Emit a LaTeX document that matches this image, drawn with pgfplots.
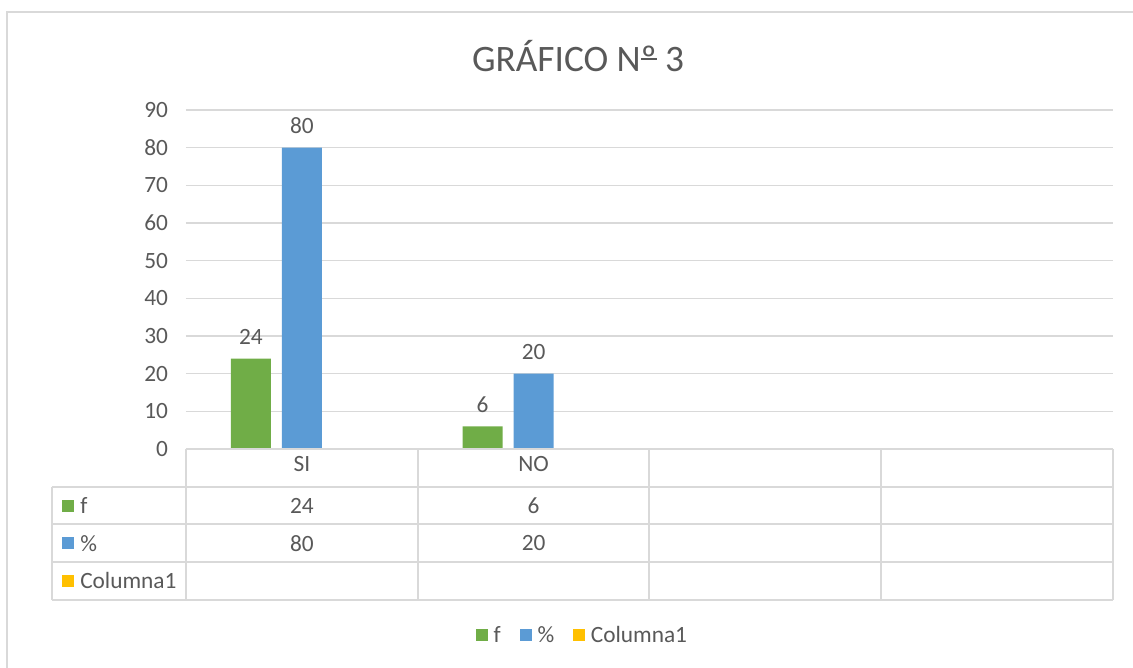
\documentclass[border=0pt]{standalone}
\usepackage{pgfplots}
\pgfplotsset{compat=1.18}
\usepackage{fontspec}
\setmainfont{Carlito}
\definecolor{cgreen}{HTML}{70AD47}
\definecolor{cblue}{HTML}{5B9BD5}
\definecolor{cyellow}{HTML}{FFC000}
\definecolor{ctext}{HTML}{595959}
\definecolor{cgrid}{HTML}{D9D9D9}
\newcommand{\fs}{\fontsize{17.5}{21}\selectfont}
\newsavebox{\ordbox}
\begin{document}
\begin{tikzpicture}[x=1pt,y=1pt]
% pixel (px,py) -> ((px-186)*0.75pt, (449-py)*0.75pt)
\useasboundingbox (-139.5pt,-164.25pt) rectangle (710.25pt,336.75pt);
\draw[cgrid, line width=1.5pt] (-134.25pt,-170pt) -- (-134.25pt,327.75pt) -- (720pt,327.75pt);
\node[text=ctext, font=\fontsize{28}{33}\selectfont] at (294pt,294.75pt) {GRÁFICO N\sbox{\ordbox}{º}\usebox{\ordbox}\llap{\rule[0.3em]{\wd\ordbox}{0.06em}} 3};
\begin{axis}[
  at={(0pt,0pt)}, anchor=south west,
  scale only axis,
  width=695.25pt, height=254.25pt,
  xmin=-0.5, xmax=3.5,
  ymin=0, ymax=90,
  ytick={0,10,...,90},
  xtick={0,1,2,3},
  xticklabels={SI,NO,{},{}},
  xticklabel style={anchor=center, yshift=-11pt},
  major tick length=0pt,
  axis line style={draw=none},
  ymajorgrids, grid style={cgrid, line width=0.9pt},
  tick label style={text=ctext, font=\fs},
  yticklabel style={xshift=-10pt},
  /pgf/number format/assume math mode=true,
  ybar, bar width=30pt,
  clip=false,
  nodes near coords,
  every node near coord/.append style={text=ctext, font=\fs, yshift=7pt},
  legend style={at={(rel axis cs:0.428,-0.55)}, anchor=center, draw=none, legend columns=3,
    font=\fs, text=ctext,
    /tikz/every even column/.append style={column sep=12pt}},
  legend image code/.code={\fill[#1] (0pt,-4.5pt) rectangle (9pt,4.5pt); \path (11.5pt,0pt);},
]
\addplot[fill=cgreen, draw=none, bar shift=-38.25pt] coordinates {(0,24) (1,6)};
\addlegendentry{f}
\addplot[fill=cblue, draw=none, bar shift=0pt] coordinates {(0,80) (1,20)};
\addlegendentry{\%}
\addlegendimage{fill=cyellow, draw=none}
\addlegendentry{Columna1}
% data table
\draw[cgrid, line width=1.5pt] (axis cs:-0.5,0) -- (axis cs:3.5,0);
\draw[cgrid, line width=1.5pt] ([xshift=-100.5pt]axis cs:-0.5,-10) -- (axis cs:3.5,-10);
\draw[cgrid, line width=1.5pt] ([xshift=-100.5pt]axis cs:-0.5,-20) -- (axis cs:3.5,-20);
\draw[cgrid, line width=1.5pt] ([xshift=-100.5pt]axis cs:-0.5,-30) -- (axis cs:3.5,-30);
\draw[cgrid, line width=1.5pt] ([xshift=-100.5pt]axis cs:-0.5,-40) -- (axis cs:3.5,-40);
\draw[cgrid, line width=1.5pt] ([xshift=-100.5pt]axis cs:-0.5,-10) -- ([xshift=-100.5pt]axis cs:-0.5,-40);
\draw[cgrid, line width=1.5pt] (axis cs:-0.5,0) -- (axis cs:-0.5,-40);
\draw[cgrid, line width=1.5pt] (axis cs:0.5,0) -- (axis cs:0.5,-40);
\draw[cgrid, line width=1.5pt] (axis cs:1.5,0) -- (axis cs:1.5,-40);
\draw[cgrid, line width=1.5pt] (axis cs:2.5,0) -- (axis cs:2.5,-40);
\draw[cgrid, line width=1.5pt] (axis cs:3.5,0) -- (axis cs:3.5,-40);
\fill[cgreen] ([xshift=-93pt,yshift=-4.5pt]axis cs:-0.5,-15) rectangle ++(9pt,9pt);
\node[anchor=west, text=ctext, font=\fs, inner sep=0pt] at ([xshift=-79.5pt]axis cs:-0.5,-15) {f};
\fill[cblue] ([xshift=-93pt,yshift=-4.5pt]axis cs:-0.5,-25) rectangle ++(9pt,9pt);
\node[anchor=west, text=ctext, font=\fs, inner sep=0pt] at ([xshift=-79.5pt]axis cs:-0.5,-25) {\%};
\fill[cyellow] ([xshift=-93pt,yshift=-4.5pt]axis cs:-0.5,-35) rectangle ++(9pt,9pt);
\node[anchor=west, text=ctext, font=\fs, inner sep=0pt] at ([xshift=-79.5pt]axis cs:-0.5,-35) {Columna1};
\node[text=ctext, font=\fs] at (axis cs:0,-15) {24};
\node[text=ctext, font=\fs] at (axis cs:1,-15) {6};
\node[text=ctext, font=\fs] at (axis cs:0,-25) {80};
\node[text=ctext, font=\fs] at (axis cs:1,-25) {20};
\end{axis}
\end{tikzpicture}
\end{document}
